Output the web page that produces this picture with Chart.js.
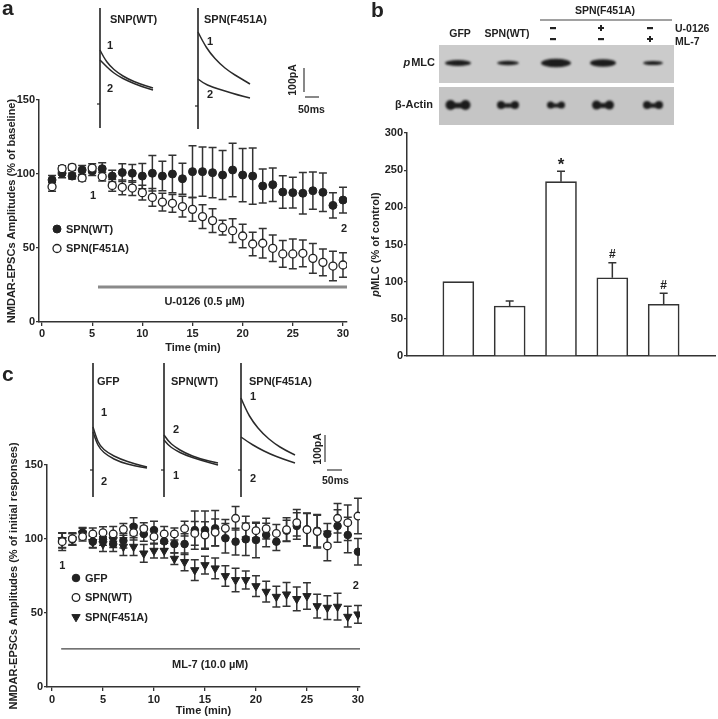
<!DOCTYPE html>
<html>
<head>
<meta charset="utf-8">
<script src="https://cdn.jsdelivr.net/npm/chart.js@4.4.1/dist/chart.umd.min.js"></script>
<style>
  html, body { margin: 0; padding: 0; background: #fff; }
  #wrap { position: relative; width: 718px; height: 719px; }
  #wrap canvas { position: absolute; left: 0; top: 0; }
</style>
</head>
<body>
<div id="wrap">
  <canvas id="chartA" width="718" height="719"></canvas>
  <canvas id="chartB" width="718" height="719"></canvas>
  <canvas id="chartC" width="718" height="719"></canvas>
  <canvas id="deco" width="718" height="719"></canvas>
</div>
<script>
// ---- data ----
const timeMin = [1,2,3,4,5,6,7,8,9,10,11,12,13,14,15,16,17,18,19,20,21,22,23,24,25,26,27,28,29,30];
const xTicks = [0,5,10,15,20,25,30];
const yTicksA = [0,50,100,150];
const yTicksB = [0,50,100,150,200,250,300];

// panel a: U-0126
const wtA = [96,100.5,98.6,102.7,102,103.6,98.6,101,100.5,98.6,100.5,98.6,100,96.8,101.6,101.6,100.9,99.3,102.7,99.3,98.6,91.9,92.8,87.8,87.4,87,88.7,87.6,78.8,82.4];
const wtAErr = [3,3,2,3,3,4,4,6,6,8.5,12,10,12.6,10.4,17.5,16.7,17,16.6,18,18,19,11.5,11.3,11,10.4,14,12.6,13,8.5,8.7];
const f451aA = [91.4,103.6,104.5,97.3,104,98.2,92.3,91,90.5,87.4,84.2,81,80.2,78,76.1,71.2,68.5,63.7,61.7,58.1,52.7,53.2,49.8,46,46,46.4,43,40.3,37.8,38.5];
const f451aAErr = [3,2,2,2,3,3,4,5,5,5,6,6,6,7,8,8,8,5,8,8,8,10,9,9,10,9,10,9,10,8.3];

// panel b: pMLC western blot quantification
const laneNames = ['GFP','SPN(WT)','SPN(F451A)','SPN(F451A)+U-0126','SPN(F451A)+ML-7'];
const pmlc = [100,67.3,234.5,105.3,69.5];
const pmlcErr = [0,6.7,14,20,15];
const sigMarks = ['','','*','#','#'];

// panel c: ML-7
const gfpC = [98.9,99.8,104.3,98.2,99.8,96.6,98.9,108.3,103.4,106,98.4,96.6,96.6,106,106,107.2,100.5,98.2,99.8,99.3,102.7,98.2,105.6,108.8,106.5,105.6,103.4,108.8,102.7,91.4];
const gfpCErr = [5,4,3,4,4,5,5,6,5,6,5,6,7,13,13,12,10,9,11,12,8,6,7,9,11,11,7,11,12,9];
const wtC = [98.2,100.2,101.6,103.4,104.3,103.4,106.5,104.3,107,101.6,103.4,103.4,107,103.8,102.7,104.5,107.2,114,108.3,105.6,107,103.8,106.3,111,106.3,105,95.3,114,111,115.5];
const wtCErr = [6,4,3,4,4,5,4,5,4,5,5,4,5,8,9,9,6,8,7,5,7,6,8,9,11,11,10,10,12,12];
const f451aC = [99.3,99.8,103.8,98,96.6,99.3,94.8,94.8,90.3,92.1,92.1,86.7,84.5,79,82.4,80.2,75,72.3,72.3,68.2,64.4,61,62.6,59.5,61.5,54.7,53.6,54.3,47.5,49.1];
const f451aCErr = [5,4,4,4,5,5,6,6,6,5,5,4,6,7,6,7,7,8,6,7,7,7,8,8,9,8,8,9,7,6];

// ---- styling ----
const FONT = "'Liberation Sans', Arial, Helvetica, sans-serif";
const INK = '#222';
const AXIS = '#333';
const tickFont = { family: FONT, size: 11, weight: 'bold' };

const pts = (ys) => timeMin.map((t, i) => ({ x: t, y: ys[i] }));
const fixedTicks = (vals) => (scale) => { scale.ticks = vals.map(v => ({ value: v })); };

function timeAxis(min, max, height, pad) {
  return {
    type: 'linear', min: min, max: max,
    afterBuildTicks: fixedTicks(xTicks),
    afterFit: (s) => { s.height = height; },
    grid: { drawOnChartArea: false, tickLength: 4, color: AXIS, lineWidth: 1.3 },
    border: { color: AXIS, width: 1.5 },
    ticks: { font: tickFont, color: INK, padding: pad, maxRotation: 0 },
    title: { display: true, text: 'Time (min)', font: tickFont, color: INK, padding: { top: 0, bottom: 1 } }
  };
}

function valueAxis(max, ticks, width, title) {
  return {
    min: 0, max: max,
    afterBuildTicks: fixedTicks(ticks),
    afterFit: (s) => { s.width = width; },
    grid: { drawOnChartArea: false, tickLength: 3, color: AXIS, lineWidth: 1.3 },
    border: { color: AXIS, width: 1.5 },
    ticks: { font: tickFont, color: INK, padding: 1 },
    title: { display: !!title, text: title, font: tickFont, color: INK, padding: { top: 4, bottom: 0 } }
  };
}

// error bars drawn under the markers
const errorBars = {
  id: 'errorBars',
  beforeDatasetsDraw(chart, args, opts) {
    const ctx = chart.ctx, xs = chart.scales.x, ys = chart.scales.y;
    ctx.save();
    ctx.strokeStyle = opts.color || AXIS;
    ctx.lineWidth = opts.width || 1.4;
    chart.data.datasets.forEach((ds) => {
      if (!ds.errors) return;
      ds.data.forEach((p, i) => {
        const e = ds.errors[i];
        if (!e) return;
        const x = xs.getPixelForValue(p.x);
        const top = ys.getPixelForValue(p.y + e);
        const bot = ys.getPixelForValue(opts.upOnly ? p.y : p.y - e);
        ctx.beginPath();
        ctx.moveTo(x, top); ctx.lineTo(x, bot);
        ctx.moveTo(x - opts.cap, top); ctx.lineTo(x + opts.cap, top);
        if (!opts.upOnly) { ctx.moveTo(x - opts.cap, bot); ctx.lineTo(x + opts.cap, bot); }
        ctx.stroke();
      });
    });
    ctx.restore();
  }
};

// in-plot notes: treatment bar, numbers, legend, significance marks
const panelNotes = {
  id: 'panelNotes',
  afterDatasetsDraw(chart, args, opts) {
    const ctx = chart.ctx, xs = chart.scales.x, ys = chart.scales.y;
    ctx.save();
    ctx.font = `bold 11px ${FONT}`;
    ctx.fillStyle = INK;
    ctx.textBaseline = 'middle';
    (opts.bars || []).forEach((b) => {
      ctx.strokeStyle = b.color; ctx.lineWidth = b.width;
      ctx.beginPath();
      ctx.moveTo(xs.getPixelForValue(b.x0), ys.getPixelForValue(b.y));
      ctx.lineTo(xs.getPixelForValue(b.x1), ys.getPixelForValue(b.y));
      ctx.stroke();
    });
    (opts.labels || []).forEach((l) => {
      ctx.textAlign = l.align || 'center';
      ctx.fillText(l.text, xs.getPixelForValue(l.x), ys.getPixelForValue(l.y));
    });
    if (opts.legend) {
      const L = opts.legend;
      chart.data.datasets.forEach((ds, i) => {
        const y = L.y + i * L.dy;
        ctx.fillStyle = ds.backgroundColor;
        ctx.strokeStyle = ds.borderColor;
        ctx.lineWidth = ds.borderWidth;
        Chart.helpers.drawPoint(ctx, { pointStyle: ds.pointStyle, rotation: ds.pointRotation || 0, radius: ds.pointRadius, borderWidth: ds.borderWidth }, L.x, y);
        ctx.fillStyle = INK;
        ctx.textAlign = 'left';
        ctx.fillText(ds.label, L.x + 9, y + 0.5);
      });
    }
    if (opts.marks) {
      const ds = chart.data.datasets[0];
      ctx.textAlign = 'center';
      ds.data.forEach((p, i) => {
        const m = opts.marks[i];
        if (!m) return;
        const top = ys.getPixelForValue(p.y + (ds.errors[i] || 0));
        ctx.font = m === '*' ? `bold 17px ${FONT}` : `bold 12px ${FONT}`;
        ctx.fillText(m, xs.getPixelForValue(p.x), top - (m === '*' ? 6 : 8));
      });
    }
    if (opts.yTitle) {
      // pMLC title with italic p
      const T = opts.yTitle;
      ctx.translate(T.x, (chart.chartArea.top + chart.chartArea.bottom) / 2);
      ctx.rotate(-Math.PI / 2);
      ctx.font = `italic bold 11px ${FONT}`;
      const w1 = ctx.measureText('p').width;
      ctx.font = `bold 11px ${FONT}`;
      const w2 = ctx.measureText(T.rest).width;
      ctx.textAlign = 'left';
      ctx.font = `italic bold 11px ${FONT}`;
      ctx.fillText('p', -(w1 + w2) / 2, 0);
      ctx.font = `bold 11px ${FONT}`;
      ctx.fillText(T.rest, -(w1 + w2) / 2 + w1, 0);
    }
    ctx.restore();
  }
};

const baseOpts = { responsive: false, animation: false, events: [] };

// ---- panel a ----
new Chart(document.getElementById('chartA'), {
  type: 'scatter',
  data: {
    datasets: [
      { label: 'SPN(WT)', data: pts(wtA), errors: wtAErr, pointStyle: 'circle', pointRadius: 4,
        backgroundColor: INK, borderColor: INK, borderWidth: 1, order: 2 },
      { label: 'SPN(F451A)', data: pts(f451aA), errors: f451aAErr, pointStyle: 'circle', pointRadius: 4,
        backgroundColor: '#fff', borderColor: INK, borderWidth: 1.3, order: 1 }
    ]
  },
  options: {
    ...baseOpts,
    layout: { padding: { left: 1, top: 100, right: 371, bottom: 363 } },
    plugins: {
      legend: { display: false }, tooltip: { enabled: false },
      errorBars: { cap: 4, width: 1.5 },
      panelNotes: {
        bars: [{ x0: 5.58, x1: 30.4, y: 23.6, color: '#8a8a8a', width: 3 }],
        labels: [
          { text: 'U-0126 (0.5 µM)', x: 16.2, y: 13.5 },
          { text: '1', x: 5.1, y: 85 },
          { text: '2', x: 30.1, y: 62.8 }
        ],
        legend: { x: 57, y: 229, dy: 19.5 }
      }
    },
    scales: {
      x: timeAxis(-0.3, 30.4, 34, 1),
      y: valueAxis(150, yTicksA, 38, 'NMDAR-EPSCs Amplitudes (% of baseline)')
    }
  },
  plugins: [errorBars, panelNotes]
});

// ---- panel b ----
new Chart(document.getElementById('chartB'), {
  type: 'bar',
  data: {
    datasets: [{
      label: 'pMLC', data: laneNames.map((n, i) => ({ x: i + 1, y: pmlc[i] })), errors: pmlcErr,
      backgroundColor: '#fff', borderColor: AXIS,
      borderWidth: { top: 1.6, left: 1.6, right: 1.6, bottom: 0 }, borderSkipped: false,
      barThickness: 31
    }]
  },
  options: {
    ...baseOpts,
    layout: { padding: { left: 365, top: 133, right: 3, bottom: 363 } },
    plugins: {
      legend: { display: false }, tooltip: { enabled: false },
      errorBars: { cap: 4, width: 1.5, upOnly: true },
      panelNotes: { marks: sigMarks, yTitle: { x: 376, rest: 'MLC (% of control)' } }
    },
    scales: {
      x: { type: 'linear', min: 0, max: 6, offset: false, afterFit: (s) => { s.height = 0; },
           ticks: { display: false }, grid: { display: false, offset: false }, border: { color: AXIS, width: 1.5 } },
      y: valueAxis(300, yTicksB, 42, '')
    }
  },
  plugins: [errorBars, panelNotes]
});

// ---- panel c ----
new Chart(document.getElementById('chartC'), {
  type: 'scatter',
  data: {
    datasets: [
      { label: 'GFP', data: pts(gfpC), errors: gfpCErr, pointStyle: 'circle', pointRadius: 3.8,
        backgroundColor: INK, borderColor: INK, borderWidth: 1, order: 2 },
      { label: 'SPN(WT)', data: pts(wtC), errors: wtCErr, pointStyle: 'circle', pointRadius: 3.8,
        backgroundColor: '#fff', borderColor: INK, borderWidth: 1.3, order: 1 },
      { label: 'SPN(F451A)', data: pts(f451aC), errors: f451aCErr, pointStyle: 'triangle', pointRotation: 180,
        pointRadius: 4.8, backgroundColor: INK, borderColor: INK, borderWidth: 1, order: 3 }
    ]
  },
  options: {
    ...baseOpts,
    layout: { padding: { left: 3, top: 465, right: 358, bottom: 0 } },
    plugins: {
      legend: { display: false }, tooltip: { enabled: false },
      errorBars: { cap: 4, width: 1.5 },
      panelNotes: {
        bars: [{ x0: 0.9, x1: 30.2, y: 25.7, color: '#444', width: 1.3 }],
        labels: [
          { text: 'ML-7 (10.0 µM)', x: 15.5, y: 14.9 },
          { text: '1', x: 1, y: 81.8 },
          { text: '2', x: 29.8, y: 68.2 }
        ],
        legend: { x: 76, y: 578, dy: 19.5 }
      }
    },
    scales: {
      x: timeAxis(-0.49, 30.2, 32, 2),
      y: valueAxis(150, yTicksA, 44, 'NMDAR-EPSCs Amplitudes (% of initial responses)')
    }
  },
  plugins: [errorBars, panelNotes]
});

// ---- traces, blot, labels ----
(function drawDeco() {
  const ctx = document.getElementById('deco').getContext('2d');
  const text = (s, x, y, size, align, style) => {
    ctx.font = `${style || 'bold'} ${size}px ${FONT}`;
    ctx.textAlign = align || 'left';
    ctx.fillStyle = INK;
    ctx.fillText(s, x, y);
  };
  const line = (x0, y0, x1, y1, w, col) => {
    ctx.strokeStyle = col || INK; ctx.lineWidth = w || 1.4;
    ctx.beginPath(); ctx.moveTo(x0, y0); ctx.lineTo(x1, y1); ctx.stroke();
  };
  const curve = (p) => {
    ctx.strokeStyle = '#2a2a2a'; ctx.lineWidth = 1.5;
    ctx.beginPath(); ctx.moveTo(p[0][0], p[0][1]);
    for (let i = 1; i < p.length - 1; i++) {
      const mx = (p[i][0] + p[i + 1][0]) / 2, my = (p[i][1] + p[i + 1][1]) / 2;
      ctx.quadraticCurveTo(p[i][0], p[i][1], mx, my);
    }
    ctx.lineTo(p[p.length - 1][0], p[p.length - 1][1]);
    ctx.stroke();
  };
  const rotText = (s, x, y, size) => {
    ctx.save(); ctx.translate(x, y); ctx.rotate(-Math.PI / 2);
    text(s, 0, 0, size, 'center'); ctx.restore();
  };
  const dash = (x, y) => { ctx.fillStyle = INK; ctx.fillRect(x - 3, y - 1, 6, 2.2); };
  const plus = (x, y) => { ctx.fillStyle = INK; ctx.fillRect(x - 3, y - 1, 6, 2); ctx.fillRect(x - 1, y - 3, 2, 6); };

  // panel letters
  ctx.textBaseline = 'alphabetic';
  text('a', 2, 15, 21);
  text('b', 371, 17, 21);
  text('c', 2, 381, 21);

  ctx.textBaseline = 'middle';
  // panel a traces
  line(100, 8, 100, 128, 1.6); line(97, 104, 100, 104, 1.2);
  line(198, 8, 198, 129, 1.6); line(195, 106, 198, 106, 1.2);
  curve([[100, 50], [104, 58], [110, 66], [118, 73], [128, 79], [140, 84], [153, 88]]);
  curve([[100, 60], [104, 64], [110, 70], [118, 76], [128, 81], [140, 86], [153, 90]]);
  curve([[198, 32], [203, 42], [210, 53], [220, 64], [230, 72], [240, 78], [250, 84]]);
  curve([[198, 79], [203, 83], [212, 87], [225, 91], [238, 95], [250, 98]]);
  text('SNP(WT)', 110, 20, 11); text('SPN(F451A)', 204, 20, 11);
  text('1', 107, 46, 11); text('2', 107, 89, 11);
  text('1', 207, 42, 11); text('2', 207, 95, 11);
  line(304, 68, 304, 92, 1.4, '#555'); line(305, 97, 319, 97, 1.4, '#555');
  rotText('100pA', 293, 80, 10.5); text('50ms', 298, 110, 10.5);

  // panel c traces
  [93, 164, 241].forEach((x) => { line(x, 363, x, 497, 1.6); line(x - 3, 470, x, 470, 1.2); });
  curve([[93, 427], [96, 437], [100, 446], [108, 453], [120, 459], [135, 464], [147, 467]]);
  curve([[93, 432], [96, 441], [100, 449], [108, 456], [120, 462], [135, 466], [147, 468]]);
  curve([[164, 435], [168, 441], [175, 447], [185, 453], [200, 459], [218, 463]]);
  curve([[164, 440], [168, 445], [175, 450], [185, 455], [200, 460], [218, 465]]);
  curve([[241, 398], [246, 410], [253, 422], [263, 434], [275, 444], [285, 450], [295, 455]]);
  curve([[241, 437], [248, 442], [258, 448], [270, 454], [283, 459], [295, 463]]);
  text('GFP', 97, 382, 11); text('SPN(WT)', 171, 382, 11); text('SPN(F451A)', 249, 382, 11);
  text('1', 101, 413, 11); text('2', 101, 482, 11);
  text('2', 173, 430, 11); text('1', 173, 476, 11);
  text('1', 250, 397, 11); text('2', 250, 479, 11);
  line(325, 435, 325, 462, 1.4, '#555'); line(327, 470, 342, 470, 1.4, '#555');
  rotText('100pA', 318, 449, 10.5); text('50ms', 322, 481, 10.5);

  // panel b header
  text('SPN(F451A)', 605, 11, 10.5, 'center');
  line(540, 20, 672, 20, 1.2, '#444');
  [['-', '-'], ['+', '-'], ['-', '+']].forEach((s, i) => {
    const x = [553, 601, 650][i];
    (s[0] === '+' ? plus : dash)(x, 28);
    (s[1] === '+' ? plus : dash)(x, 39);
  });
  text('U-0126', 675, 29, 10.5); text('ML-7', 675, 42, 10.5);
  text('GFP', 460, 34, 10.5, 'center'); text('SPN(WT)', 507, 34, 10.5, 'center');

  // blot
  ctx.fillStyle = '#cbcbcb'; ctx.fillRect(439, 45, 235, 38);
  ctx.fillStyle = '#c5c5c5'; ctx.fillRect(439, 87, 235, 38);
  const lanes = [458, 508, 556, 603, 653];
  ctx.filter = 'blur(1.1px)';
  ctx.fillStyle = '#1c1c1c';
  [[26, 6], [22, 4.5], [30, 8.5], [26, 7.5], [20, 4]].forEach((b, i) => {
    ctx.beginPath(); ctx.ellipse(lanes[i], 63, b[0] / 2, b[1] / 2, 0, 0, Math.PI * 2); ctx.fill();
  });
  [[25, 10], [22, 8], [18, 7], [22, 9], [20, 8]].forEach((b, i) => {
    const x = lanes[i], r = b[1] / 2;
    ctx.beginPath(); ctx.ellipse(x - b[0] / 2 + r, 105, r, r, 0, 0, Math.PI * 2); ctx.fill();
    ctx.beginPath(); ctx.ellipse(x + b[0] / 2 - r, 105, r, r, 0, 0, Math.PI * 2); ctx.fill();
    ctx.beginPath(); ctx.ellipse(x, 105.5, b[0] / 2 - r, r * 0.55, 0, 0, Math.PI * 2); ctx.fill();
  });
  ctx.filter = 'none';
  ctx.font = `bold 11px ${FONT}`;
  const wM = ctx.measureText('MLC').width;
  text('MLC', 435 - wM, 63, 11);
  text('p', 435 - wM - 1, 63, 11, 'right', 'italic bold');
  text('β-Actin', 433, 105, 11, 'right');
})();
</script>
</body>
</html>
